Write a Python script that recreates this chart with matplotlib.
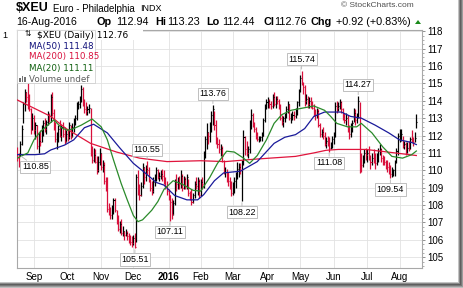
import matplotlib
matplotlib.use("Agg")
import matplotlib.pyplot as plt
import numpy as np
import pandas as pd
from matplotlib.patches import Rectangle, Polygon
from matplotlib.ticker import MultipleLocator

plt.rcParams["font.family"] = ["Liberation Sans", "DejaVu Sans"]

# ---- data (daily bars, $XEU) ----
START, END = "2015-08-17", "2016-08-16"
PRIOR_CLOSE = 111.2

HIGHS = [
    111.35, 111.0, 111.7, 112.6, 113.9,
    114.7, 114.5, 115.0, 114.4, 113.6,
    113.3, 113.2, 112.8, 112.6, 112.2,
    112.3, 112.6, 112.9, 113.0, 112.9,
    113.4, 113.3, 114.4, 114.5, 113.5,
    112.8, 112.2, 112.6, 112.9, 112.6,
    112.8, 112.5, 112.3, 112.4, 112.8,
    112.6, 112.7, 113.0, 113.2, 113.9,
    114.0, 114.3, 114.9, 114.8, 114.1,
    113.9, 113.7, 113.8, 113.6, 111.4,
    111.3, 111.2, 110.8, 110.8, 111.3,
    111.0, 110.6, 110.5, 109.6, 109.6,
    108.1, 107.9, 108.0, 108.4, 108.4,
    107.7, 107.4, 107.1, 107.2, 106.8,
    106.5, 106.6, 106.5, 106.4, 106.3,
    106.2, 106.3, 106.4, 109.8, 110.0,
    109.2, 109.3, 110.4, 110.2, 110.3,
    110.55, 110.2, 109.5, 109.4, 109.6,
    109.8, 110.2, 110.1, 109.9, 110.0,
    110.1, 110.0, 109.6, 109.4, 108.9,
    108.6, 108.4, 108.3, 109.5, 109.8,
    109.6, 109.7, 110.0, 109.8, 109.7,
    109.6, 109.8, 109.5, 108.8, 108.9,
    108.7, 109.4, 109.6, 109.6, 109.5,
    109.5, 109.6, 111.1, 112.0, 112.7,
    112.2, 112.8, 113.4, 113.76, 113.4,
    112.9, 111.9, 111.8, 111.5, 111.4,
    110.6, 110.2, 110.1, 109.9, 109.6,
    109.4, 109.3, 109.6, 109.9, 110.5,
    110.4, 110.4, 110.6, 112.3, 112.0,
    111.7, 111.4, 112.9, 113.5, 113.3,
    112.8, 112.5, 112.2, 112.0, 112.0,
    112.2, 113.0, 113.8, 114.1, 114.2,
    114.1, 114.0, 114.4, 114.5, 114.3,
    114.3, 114.1, 113.8, 113.2, 113.1,
    113.3, 113.7, 114.0, 113.8, 113.3,
    113.4, 113.4, 113.6, 114.0, 114.7,
    115.5, 115.74, 115.1, 114.9, 114.4,
    114.3, 114.2, 114.2, 114.0, 113.8,
    113.5, 113.6, 113.5, 112.7, 112.4,
    112.5, 112.2, 111.9, 112.0, 111.9,
    111.6, 112.0, 112.2, 113.9, 114.0,
    113.9, 114.1, 114.0, 113.6, 113.3,
    113.3, 113.2, 112.6, 112.7, 112.9,
    113.6, 113.5, 113.3, 114.27, 113.9,
    111.0, 110.9, 111.2, 111.3, 111.2,
    111.4, 110.9, 111.0, 111.2, 111.0,
    111.0, 111.3, 111.5, 111.3, 110.9,
    110.8, 110.6, 110.6, 110.5, 110.3,
    110.2, 110.1, 110.6, 111.3, 112.15,
    112.4, 112.4, 112.0, 111.7, 111.6,
    111.6, 111.7, 111.9, 112.3, 111.9,
    112.2, 113.23,
]
LOWS = [
    110.55, 110.2, 110.85, 111.45, 112.7,
    113.4, 113.9, 113.5, 113.4, 112.1,
    112.3, 112.1, 111.8, 111.2, 111.0,
    111.4, 111.6, 112.0, 112.2, 112.1,
    112.6, 112.8, 112.8, 113.1, 112.3,
    111.6, 111.2, 111.6, 111.9, 111.7,
    111.9, 111.5, 111.6, 111.7, 111.8,
    111.8, 111.9, 112.2, 112.6, 112.9,
    113.5, 113.6, 113.9, 113.7, 113.3,
    113.2, 113.2, 113.3, 110.8, 110.4,
    110.5, 110.4, 109.8, 109.9, 110.3,
    110.0, 109.9, 109.2, 108.8, 107.6,
    107.4, 107.2, 107.2, 107.5, 107.6,
    106.9, 106.5, 106.4, 106.3, 106.2,
    106.0, 106.2, 106.0, 105.8, 105.7,
    105.6, 105.7, 105.51, 105.9, 108.6,
    108.3, 108.5, 109.0, 109.2, 109.4,
    109.8, 109.3, 108.8, 108.6, 108.7,
    109.1, 109.4, 109.5, 109.4, 109.5,
    109.4, 109.2, 108.9, 108.6, 108.3,
    107.11, 107.2, 107.4, 108.0, 108.8,
    108.9, 108.9, 109.0, 108.8, 108.9,
    108.9, 108.9, 108.5, 108.3, 108.0,
    108.1, 108.4, 108.9, 108.6, 108.4,
    108.5, 108.9, 109.0, 110.7, 111.2,
    111.5, 111.6, 112.2, 112.6, 112.3,
    111.5, 111.3, 111.0, 110.8, 110.5,
    109.8, 109.6, 109.3, 109.1, 108.9,
    108.5, 108.6, 108.7, 109.0, 109.5,
    109.6, 109.8, 108.22, 110.3, 110.9,
    110.8, 110.7, 111.0, 112.4, 112.5,
    112.2, 111.8, 111.7, 111.6, 111.7,
    111.7, 112.0, 112.8, 113.5, 113.6,
    113.6, 113.5, 113.6, 113.7, 113.6,
    113.8, 113.5, 112.9, 112.6, 112.5,
    112.8, 113.0, 113.3, 112.9, 112.7,
    112.9, 112.9, 113.0, 113.2, 113.7,
    114.5, 114.9, 114.4, 113.7, 113.8,
    113.6, 113.6, 113.6, 113.5, 113.1,
    112.9, 113.0, 112.5, 111.9, 111.9,
    111.8, 111.4, 111.3, 111.4, 111.08,
    111.2, 111.3, 111.5, 111.9, 113.3,
    113.4, 113.5, 113.3, 112.9, 112.7,
    112.6, 112.2, 111.8, 111.9, 112.2,
    112.8, 112.6, 112.7, 113.0, 109.85,
    109.9, 110.2, 110.4, 110.6, 110.5,
    110.6, 110.1, 110.3, 110.4, 110.1,
    110.3, 110.5, 110.9, 110.5, 110.3,
    110.3, 110.1, 109.9, 109.8, 109.54,
    109.6, 109.7, 109.7, 110.4, 110.9,
    111.6, 111.7, 111.3, 111.2, 110.9,
    111.0, 111.1, 111.2, 111.6, 111.4,
    111.6, 112.44,
]
CLOSES = [
    110.7, 110.5, 111.5, 112.4, 113.8,
    114.5, 114.2, 113.6, 113.5, 112.3,
    113.0, 112.3, 112.6, 111.4, 111.7,
    111.6, 112.4, 112.7, 112.4, 112.8,
    113.2, 113.1, 114.2, 113.3, 112.5,
    111.8, 111.9, 112.4, 112.0, 112.5,
    112.1, 111.7, 112.1, 111.9, 112.6,
    112.0, 112.5, 112.8, 113.0, 113.7,
    113.8, 114.1, 114.7, 113.9, 113.5,
    113.4, 113.5, 113.6, 111.1, 110.6,
    110.9, 110.5, 110.0, 110.5, 111.0,
    110.2, 110.3, 109.4, 109.0, 107.8,
    107.6, 107.4, 107.8, 108.3, 107.7,
    107.0, 106.6, 106.9, 106.4, 106.5,
    106.3, 106.4, 106.2, 106.1, 105.9,
    105.8, 106.1, 105.6, 109.6, 108.8,
    108.6, 109.1, 110.2, 109.6, 110.1,
    110.0, 109.4, 109.0, 108.8, 109.3,
    109.6, 110.0, 109.6, 109.7, 109.8,
    109.7, 109.4, 109.1, 108.8, 108.6,
    108.2, 107.5, 108.1, 109.3, 109.2,
    109.3, 109.2, 109.7, 109.0, 109.5,
    109.1, 109.6, 108.7, 108.5, 108.2,
    108.6, 109.2, 109.1, 109.4, 108.6,
    109.3, 109.2, 110.9, 111.8, 112.2,
    112.0, 112.7, 113.2, 113.5, 112.6,
    111.6, 111.5, 111.2, 111.3, 110.8,
    109.9, 109.9, 109.5, 109.4, 109.1,
    108.7, 108.9, 109.4, 109.6, 110.1,
    110.2, 110.0, 110.4, 111.9, 111.2,
    111.0, 111.2, 112.8, 113.2, 112.7,
    112.4, 112.0, 111.8, 111.9, 111.9,
    112.0, 112.9, 113.6, 113.9, 114.0,
    113.8, 113.7, 114.2, 113.8, 114.1,
    114.0, 113.6, 113.0, 112.8, 113.0,
    113.1, 113.5, 113.8, 113.0, 113.2,
    113.2, 113.1, 113.5, 113.9, 114.6,
    115.3, 115.0, 114.8, 114.0, 114.1,
    113.8, 114.0, 113.8, 113.6, 113.3,
    113.2, 113.4, 112.6, 112.1, 112.2,
    112.0, 111.5, 111.7, 111.6, 111.3,
    111.4, 111.8, 112.0, 113.7, 113.6,
    113.7, 113.9, 113.5, 113.0, 112.9,
    113.0, 112.3, 112.1, 112.5, 112.7,
    113.3, 112.9, 113.1, 114.0, 111.2,
    110.3, 110.6, 111.0, 110.9, 111.0,
    110.8, 110.5, 110.7, 110.6, 110.4,
    110.6, 111.1, 111.2, 110.7, 110.6,
    110.5, 110.3, 110.2, 109.9, 109.8,
    109.9, 110.0, 110.5, 111.1, 112.0,
    112.0, 112.1, 111.4, 111.5, 111.0,
    111.3, 111.2, 111.8, 111.7, 111.6,
    111.84, 112.76,
]

# moving averages: (bar number, value)
MA50_BARS = [0, 12, 18, 22, 31, 37, 44, 50, 59, 67, 76, 83, 91, 96, 103, 111,
             118, 122, 129, 135, 146, 157, 168, 175, 182, 188, 194, 201, 212,
             218, 225, 234, 243, 250, 258, 261]
MA50_VALUES = [110.9, 110.9, 110.95, 111.17, 111.45, 111.75, 112.45, 112.65,
               112.15, 111.3, 110.4, 109.9, 109.3, 109.15, 108.55, 108.3, 108.3,
               108.6, 109.4, 109.85, 109.95, 110.5, 111.55, 111.9, 112.05, 112.4,
               113.1, 113.35, 113.35, 113.1, 113.0, 112.6, 112.15, 111.75, 111.6,
               111.48]
MA200_BARS = [0, 22, 32, 48, 65, 80, 98, 120, 136, 157, 182, 194, 202, 210,
              228, 247, 261]
MA200_VALUES = [114.05, 113.1, 112.4, 111.55, 111.05, 110.7, 110.5, 110.55,
                110.5, 110.65, 110.8, 111.0, 111.15, 111.2, 111.2, 111.0, 110.85]
MA20_BARS = [0, 7, 11, 15, 20, 24, 29, 33, 37, 42, 45, 49, 55, 59, 63, 68, 72,
             76, 79, 82, 88, 92, 96, 102, 108, 115, 120, 126, 131, 137, 142,
             148, 152, 157, 163, 168, 173, 179, 188, 194, 201, 205, 209, 216,
             222, 225, 232, 239, 245, 252, 258, 261]
MA20_VALUES = [110.7, 111.0, 111.75, 112.2, 112.6, 112.9, 112.45, 112.3, 112.4,
               112.6, 112.75, 112.95, 112.5, 111.75, 110.6, 109.25, 108.3,
               107.4, 107.05, 107.15, 107.7, 108.2, 108.9, 109.4, 109.2, 108.85,
               108.8, 109.6, 110.4, 111.1, 111.05, 110.7, 110.4, 110.85, 111.75,
               112.7, 113.2, 113.45, 113.6, 113.7, 113.45, 113.1, 112.7, 112.5,
               112.5, 112.7, 112.15, 111.35, 110.8, 110.7, 110.9, 111.11]

MONTH_LABELS = ["Sep", "Oct", "Nov", "Dec", "2016", "Feb", "Mar", "Apr",
                "May", "Jun", "Jul", "Aug"]
Y_TICKS = list(range(105, 119))

# annotated swing highs / lows (bar number, which end of the bar)
LABEL_BARS = [2, 77, 85, 100, 128, 147, 186, 204, 223, 244]
LABEL_SIDES = ["low", "low", "high", "low", "high", "low", "high", "low",
               "high", "low"]

RED = "#d8103c"
MA50_COLOR = "#1a1a9a"
MA200_COLOR = "#e0143c"
MA20_COLOR = "#2a8a2a"

W, H = 464, 288


def fx(px):
    return px / W


def fy(py):
    return 1 - py / H


fig = plt.figure(figsize=(W / 100, H / 100), dpi=100)
fig.patch.set_facecolor("white")
ax = fig.add_axes([fx(16.5), fy(268), (422 - 16.5) / W, (268 - 30) / H])

dates = pd.bdate_range(START, END)
bars = np.arange(len(dates))
highs = np.array(HIGHS)
lows = np.array(LOWS)
closes = np.array(CLOSES)
prev = np.concatenate([[PRIOR_CLOSE], closes[:-1]])
colors = np.where(closes < prev, RED, "black")

ax.vlines(bars, lows, highs, colors=colors, lw=0.9, zorder=3)
ax.hlines(closes, bars, bars + 0.7, colors=colors, lw=0.8, zorder=3)

ax.plot(MA200_BARS, MA200_VALUES, color=MA200_COLOR, lw=0.9, zorder=4)
ax.plot(MA50_BARS, MA50_VALUES, color=MA50_COLOR, lw=0.9, zorder=4)
ax.plot(MA20_BARS, MA20_VALUES, color=MA20_COLOR, lw=0.9, zorder=4)

# swing high / low tags
for b, side in zip(LABEL_BARS, LABEL_SIDES):
    val = highs[b] if side == "high" else lows[b]
    dy = 8 if side == "high" else -8
    dx = 11 if b == 2 else 0
    ax.annotate(f"{val:.2f}", xy=(b, val), xytext=(dx, dy),
                textcoords="offset points", ha="center", va="center",
                fontsize=6.4, zorder=6,
                bbox=dict(boxstyle="square,pad=0.18", fc="white",
                          ec="#b4b4b4", lw=0.6),
                arrowprops=dict(arrowstyle="-", color="#b4b4b4", lw=0.6,
                                shrinkA=0, shrinkB=1))

# axes, ticks, grid
month_starts = [i for i in range(1, len(dates))
                if dates[i].month != dates[i - 1].month]
ax.set_xlim(-0.4, 264.7)
ax.set_ylim(104.38, 118.07)
ax.set_xticks(month_starts)
ax.set_xticklabels(MONTH_LABELS, fontsize=7)
ax.get_xticklabels()[4].set_fontweight("bold")
ax.set_yticks(Y_TICKS)
ax.set_yticklabels([str(v) for v in Y_TICKS], fontsize=7)
ax.yaxis.set_minor_locator(MultipleLocator(0.25))
ax.yaxis.tick_right()
ax.yaxis.set_ticks_position("right")
ax.tick_params(axis="x", length=0, pad=3)
ax.tick_params(axis="y", which="major", length=2.5, width=0.6, pad=1.5,
               color="#808080")
ax.tick_params(axis="y", which="minor", length=1.2, width=0.5, color="#909090")
ax.grid(True, color="#e2e2e2", lw=0.6, zorder=0)
for sp in ax.spines.values():
    sp.set_color("#a8a8a8")
    sp.set_linewidth(0.8)

# header
fig.text(fx(16), fy(8), "$XEU", fontsize=9, fontweight="bold", va="center")
fig.text(fx(53), fy(8.5), "Euro - Philadelphia", fontsize=7, va="center")
fig.text(fx(140), fy(8.5), "INDX", fontsize=6.5, va="center")
fig.text(fx(16), fy(22), "16-Aug-2016", fontsize=7.6, va="center")
header = [(97, "Op", True), (116, "112.94", False), (155, "Hi", True),
          (167, "113.23", False), (206, "Lo", True), (222, "112.44", False),
          (264, "Cl", True), (274, "112.76", False), (311, "Chg", True),
          (336, "+0.92 (+0.83%)", False)]
for px, s, bold in header:
    fig.text(fx(px), fy(22), s, fontsize=7.8,
             fontweight="bold" if bold else "normal", va="center")
fig.add_artist(Polygon([(fx(415), fy(24)), (fx(421), fy(24)), (fx(418), fy(20))],
                       closed=True, transform=fig.transFigure,
                       facecolor="#1a8a1a", edgecolor="none"))
fig.text(fx(414), fy(5.5), "\u00a9 StockCharts.com", fontsize=6, ha="right",
         va="center", color="#505050")
fig.text(fx(2), fy(35), "1", fontsize=6.5, va="center")

# in-chart legend
fig.add_artist(Rectangle((fx(16.8), fy(40)), (143 - 16.8) / W, 9.5 / H,
                         transform=fig.transFigure, facecolor="white",
                         edgecolor="none", zorder=2.5))
fig.add_artist(Rectangle((fx(16.8), fy(83)), (95 - 16.8) / W, 53 / H,
                         transform=fig.transFigure, facecolor="white",
                         edgecolor="#c8c8c8", lw=0.5, zorder=2.5))
for px, (y0, y1) in zip((19.5, 22.0), ((33, 38), (32, 37))):
    fig.add_artist(plt.Line2D([fx(px), fx(px)], [fy(y1), fy(y0)],
                              transform=fig.transFigure, color="black", lw=0.8))
fig.text(fx(25), fy(35), "\u21c5", fontsize=5.5, va="center", color="black")
fig.text(fx(37), fy(35), "$XEU (Daily) 112.76", fontsize=6.5, va="center",
         family="DejaVu Sans")
legend_rows = [(46, "MA(50) 111.48", "#10107a"),
               (57, "MA(200) 110.85", "#d8103c"),
               (68, "MA(20) 111.11", "#106010")]
for py, s, c in legend_rows:
    fig.add_artist(plt.Line2D([fx(19), fx(28)], [fy(py), fy(py)],
                              transform=fig.transFigure, color=c, lw=1.6))
    fig.text(fx(29), fy(py), s, fontsize=6.3, va="center", color=c,
             family="DejaVu Sans")
for k, hgt in enumerate((4, 6, 5)):
    fig.add_artist(Rectangle((fx(19 + 2.5 * k), fy(82)), 1.8 / W, hgt / H,
                             transform=fig.transFigure, facecolor="#707070",
                             edgecolor="none", zorder=3))
fig.text(fx(29), fy(79), "Volume undef", fontsize=6.3, va="center",
         color="#606060", family="DejaVu Sans")

# drop shadow along bottom and right edges
shade = ["#c4c4c4", "#8a8a8a", "#5e5e5e", "#787878", "#9c9c9c", "#c0c0c0"]
for k, c in enumerate(shade):
    fig.add_artist(Rectangle((0, fy(282 + k + 1)), 1, 1 / H,
                             transform=fig.transFigure, facecolor=c,
                             edgecolor="none", antialiased=False))
    fig.add_artist(Rectangle((fx(458 + k), 0), 1 / W, 1,
                             transform=fig.transFigure, facecolor=c,
                             edgecolor="none", antialiased=False))

fig.savefig("out.png", dpi=100)
